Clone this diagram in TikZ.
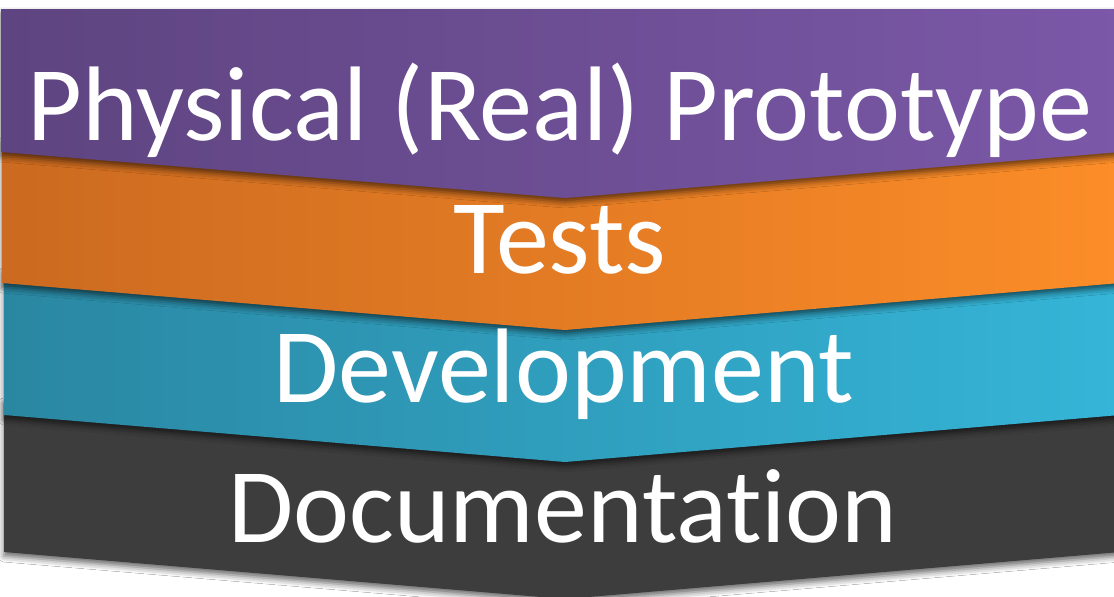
\documentclass[tikz,border=0pt]{standalone}
\usepackage{fontspec}
\setmainfont{Carlito}[Ligatures=NoCommon]
\usetikzlibrary{shadows.blur}
\definecolor{purL}{HTML}{5E4480}
\definecolor{purR}{HTML}{7B58A8}
\definecolor{orL}{HTML}{CB6A20}
\definecolor{orR}{HTML}{FC8D28}
\definecolor{teL}{HTML}{2A87A2}
\definecolor{teR}{HTML}{35B5D8}
\definecolor{dkg}{HTML}{3D3D3D}
\tikzset{
  band/.style={draw=none, blur shadow={shadow xshift=0pt, shadow yshift=-4pt, shadow blur radius=6pt, shadow opacity=60}},
  lbl/.style={text=white, anchor=base, font=\fontsize{106}{112}\selectfont, inner sep=0pt}
}
\begin{document}
\begin{tikzpicture}[x=1pt,y=-1pt]
\useasboundingbox (0,0) rectangle (1114,597);
\fill[white] (0,0) rectangle (1114,597);
% dark band
\path[band, fill=dkg] (4,400) -- (1120,400) -- (1120,552) -- (565,599) -- (4,552) -- cycle;
% teal band
\path[band, left color=teL, right color=teR] (4,270) -- (1120,270) -- (1120,415) -- (565,462) -- (4,415) -- cycle;
% orange band
\path[band, left color=orL, right color=orR] (2,140) -- (1120,140) -- (1120,283) -- (565,330) -- (2,283) -- cycle;
% purple band
\path[band, left color=purL, right color=purR] (1,9) -- (1120,9) -- (1120,152) -- (565,198) -- (1,152) -- cycle;
\node[lbl] (p) at (560,140) {Physical (Real) Prototype};
\node[lbl] (t) at (560,273) {Tests};
\node[lbl] (d) at (564,402) {Development};
\node[lbl] (c) at (563,542) {Documentation};
\end{tikzpicture}
\end{document}
